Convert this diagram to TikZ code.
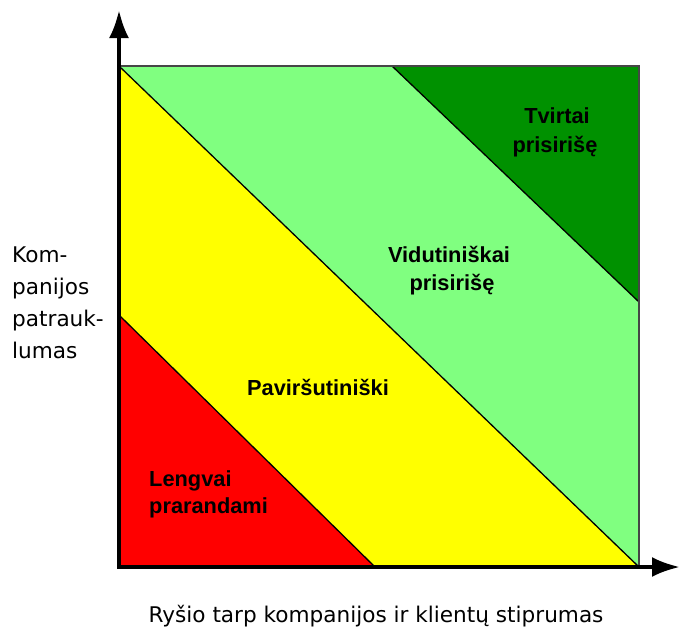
\documentclass[tikz,border=0pt]{standalone}
\usepackage{fontspec}
\setmainfont{DejaVu Sans}
\newfontfamily\zonefont{Liberation Sans}
\usetikzlibrary{arrows.meta}
\definecolor{zoneRed}{RGB}{255,0,0}
\definecolor{zoneYellow}{RGB}{255,255,0}
\definecolor{zoneLight}{RGB}{128,255,128}
\definecolor{zoneDark}{RGB}{0,145,0}
\definecolor{frameGray}{RGB}{70,70,70}
\tikzset{
  axisline/.style={line width=4pt,-{Latex[length=28pt,width=20pt]}},
  divider/.style={line width=1.3pt,black},
  frameline/.style={line width=2pt,frameGray},
  axislabel/.style={inner sep=0pt,font=\fontsize{21.6}{25}\selectfont},
  zonelabel/.style={inner sep=0pt,font=\zonefont\bfseries\fontsize{21.8}{26}\selectfont},
}
\begin{document}
\begin{tikzpicture}[x=1pt,y=-1pt]
\useasboundingbox (0,0) rectangle (681,630);
% corners of the chart area
\coordinate (TL) at (119,66);
\coordinate (TR) at (639,66);
\coordinate (BR) at (639,567);
\coordinate (BL) at (119,567);
% ends of the zone boundaries
\coordinate (r1) at (119,315);
\coordinate (r2) at (375,567);
\coordinate (g1) at (392,66);
\coordinate (g2) at (639,302);
% axis tips
\coordinate (ytip) at (119,10);
\coordinate (xstart) at (117,567);
\coordinate (xtip) at (680,567);

% zones
\fill[zoneLight] (TL) -- (TR) -- (BR) -- (BL) -- cycle;
\fill[zoneYellow] (TL) -- (BR) -- (BL) -- cycle;
\fill[zoneRed] (r1) -- (r2) -- (BL) -- cycle;
\fill[zoneDark] (g1) -- (TR) -- (g2) -- cycle;

% boundaries between zones
\draw[divider] (r1) -- (r2);
\draw[divider] (TL) -- (BR);
\draw[divider] (g1) -- (g2);
\draw[frameline] (TL) -- (TR) -- (BR);

% axes
\draw[axisline] (BL) -- (ytip);
\draw[axisline] (xstart) -- (xtip);

% zone labels
\node[zonelabel,anchor=base] (t1) at (557,123) {Tvirtai};
\node[zonelabel,anchor=base] (t2) at (555,152) {prisirišę};
\node[zonelabel,anchor=base] (v1) at (449,262) {Vidutiniškai};
\node[zonelabel,anchor=base] (v2) at (452,290) {prisirišę};
\node[zonelabel,anchor=base] (p1) at (318,395) {Paviršutiniški};
\node[zonelabel,anchor=base west] (l1) at (149,486) {Lengvai};
\node[zonelabel,anchor=base west] (l2) at (149,513) {prarandami};

% axis labels
\node[axislabel,anchor=base west] (y1) at (12,262) {Kom-};
\node[axislabel,anchor=base west] (y2) at (12,294) {panijos};
\node[axislabel,anchor=base west] (y3) at (12,326) {patrauk-};
\node[axislabel,anchor=base west] (y4) at (12,358) {lumas};
\node[axislabel,anchor=base] (xl) at (376,622) {Ryšio tarp kompanijos ir klientų stiprumas};
\end{tikzpicture}
\end{document}
